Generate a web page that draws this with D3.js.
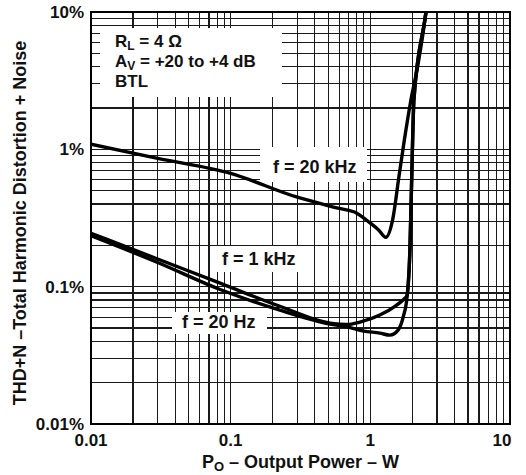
<!DOCTYPE html>
<html lang="en">
<head>
  <meta charset="utf-8">
  <title>THD+N vs Output Power</title>
  <script src="https://d3js.org/d3.v7.min.js"></script>
  <style>
    body { margin: 0; background: #fff; }
    svg text { font-family: "Liberation Sans", Arial, Helvetica, sans-serif; font-weight: bold; fill: #111; }
    .grid line { stroke: #1a1a1a; stroke-width: 1.1; shape-rendering: crispEdges; }
    .curve { fill: none; stroke: #000; stroke-width: 3.4; stroke-linejoin: round; }
  </style>
</head>
<body>
<script>
// data: [output power W, THD+N %]
const f20kHz = [
  [0.01, 1.09], [0.03, 0.86], [0.1, 0.668], [0.3, 0.448], [0.6, 0.371], [0.8, 0.343],
  [1.0, 0.29], [1.15, 0.258], [1.29, 0.229], [1.45, 0.313], [1.6, 0.625], [1.75, 1.16],
  [1.95, 2.27], [2.2, 4.2], [2.5, 9.9], [2.56, 12]
];
const f1kHz = [
  [0.01, 0.245], [0.03, 0.159], [0.084, 0.106], [0.225, 0.072], [0.514, 0.0543],
  [0.68, 0.0530], [0.843, 0.0552], [1.17, 0.0621], [1.5, 0.072], [1.77, 0.0825],
  [1.83, 0.0860], [1.92, 0.184], [2.0, 0.984], [2.05, 2.27], [2.5, 9.9], [2.56, 12]
];
const f20Hz = [
  [0.01, 0.235], [0.03, 0.150], [0.084, 0.0954], [0.225, 0.0675], [0.514, 0.0535],
  [0.68, 0.0510], [0.9, 0.0475], [1.17, 0.0459], [1.38, 0.0444], [1.58, 0.0483],
  [1.72, 0.0603], [1.83, 0.0836], [1.92, 0.184], [2.0, 0.984], [2.05, 2.27], [2.5, 9.9], [2.56, 12]
];
const xTickValues = [0.01, 0.1, 1, 10];
const xTickLabels = ["0.01", "0.1", "1", "10"];
const yTickValues = [0.01, 0.1, 1, 10];
const yTickLabels = ["0.01%", "0.1%", "1%", "10%"];

const width = 526, height = 475;
const margin = { top: 12, right: 16, bottom: 51, left: 91 };

const svg = d3.select("body").append("svg")
  .attr("width", width)
  .attr("height", height);

const x = d3.scaleLog().domain([0.01, 10]).range([margin.left, width - margin.right]);
const y = d3.scaleLog().domain([0.01, 10]).range([height - margin.bottom, margin.top]);

// grid lines 1..9 per decade
const gridVals = [];
[0.01, 0.1, 1].forEach(d => { for (let k = 1; k < 10; k++) gridVals.push(d * k); });
gridVals.push(10);

const grid = svg.append("g").attr("class", "grid");
grid.selectAll(".gx").data(gridVals).enter().append("line")
  .attr("x1", d => x(d)).attr("x2", d => x(d))
  .attr("y1", y(10)).attr("y2", y(0.01));
grid.selectAll(".gy").data(gridVals).enter().append("line")
  .attr("y1", d => y(d)).attr("y2", d => y(d))
  .attr("x1", x(0.01)).attr("x2", x(10));

// white boxes behind annotations (in pixels)
const boxes = [
  { x0: 100, x1: 282, y0: 28, y1: 97 },
  { x0: 260, x1: 367, y0: 147, y1: 182 },
  { x0: 212, x1: 298, y0: 246, y1: 272 },
  { x0: 172, x1: 267, y0: 312, y1: 334 }
];
svg.selectAll(".box").data(boxes).enter().append("rect")
  .attr("x", d => d.x0).attr("y", d => d.y0)
  .attr("width", d => d.x1 - d.x0).attr("height", d => d.y1 - d.y0)
  .attr("fill", "#fff");

// frame
svg.append("rect")
  .attr("x", x(0.01)).attr("y", y(10))
  .attr("width", x(10) - x(0.01)).attr("height", y(0.01) - y(10))
  .attr("fill", "none").attr("stroke", "#000").attr("stroke-width", 2);

// curves
const line = d3.line()
  .x(d => x(d[0]))
  .y(d => y(d[1]))
  .curve(d3.curveMonotoneX);

svg.append("clipPath").attr("id", "plot").append("rect")
  .attr("x", x(0.01)).attr("y", y(10))
  .attr("width", x(10) - x(0.01)).attr("height", y(0.01) - y(10));

const curves = svg.append("g").attr("clip-path", "url(#plot)");
[f20kHz, f1kHz, f20Hz].forEach(s => {
  curves.append("path").attr("class", "curve").attr("d", line(s));
});

// tick labels
svg.selectAll(".xt").data(xTickValues).enter().append("text")
  .attr("x", (d, i) => x(d) - (i === 3 ? 8 : 0))
  .attr("y", 446)
  .attr("text-anchor", "middle")
  .attr("font-size", 17)
  .text((d, i) => xTickLabels[i]);

svg.selectAll(".yt").data(yTickValues).enter().append("text")
  .attr("x", 84)
  .attr("y", d => y(d))
  .attr("dy", "0.36em")
  .attr("text-anchor", "end")
  .attr("font-size", 17)
  .text((d, i) => yTickLabels[i]);

// axis titles
const xt = svg.append("text")
  .attr("x", (x(0.01) + x(10)) / 2)
  .attr("y", 468)
  .attr("text-anchor", "middle")
  .attr("font-size", 18);
xt.append("tspan").text("P");
xt.append("tspan").attr("font-size", 13).attr("dy", 3).text("O");
xt.append("tspan").attr("dy", -3).text(" \u2013 Output Power \u2013 W");

svg.append("text")
  .attr("transform", "translate(26,223) rotate(-90)")
  .attr("text-anchor", "middle")
  .attr("font-size", 18)
  .text("THD+N \u2013Total Harmonic Distortion + Noise");

// annotations
const info = svg.append("g").attr("font-size", 17);
const t1 = info.append("text").attr("x", 115).attr("y", 47);
t1.append("tspan").text("R");
t1.append("tspan").attr("font-size", 12).attr("dy", 3).text("L");
t1.append("tspan").attr("dy", -3).text(" = 4 \u03A9");
const t2 = info.append("text").attr("x", 115).attr("y", 67);
t2.append("tspan").text("A");
t2.append("tspan").attr("font-size", 12).attr("dy", 3).text("V");
t2.append("tspan").attr("dy", -3).text(" = +20 to +4 dB");
info.append("text").attr("x", 115).attr("y", 87).text("BTL");

const curveLabels = [
  { text: "f = 20 kHz", x: 273, y: 173 },
  { text: "f = 1 kHz", x: 222, y: 265 },
  { text: "f = 20 Hz", x: 182, y: 328 }
];
svg.selectAll(".cl").data(curveLabels).enter().append("text")
  .attr("x", d => d.x).attr("y", d => d.y)
  .attr("font-size", 18)
  .text(d => d.text);
</script>
</body>
</html>
